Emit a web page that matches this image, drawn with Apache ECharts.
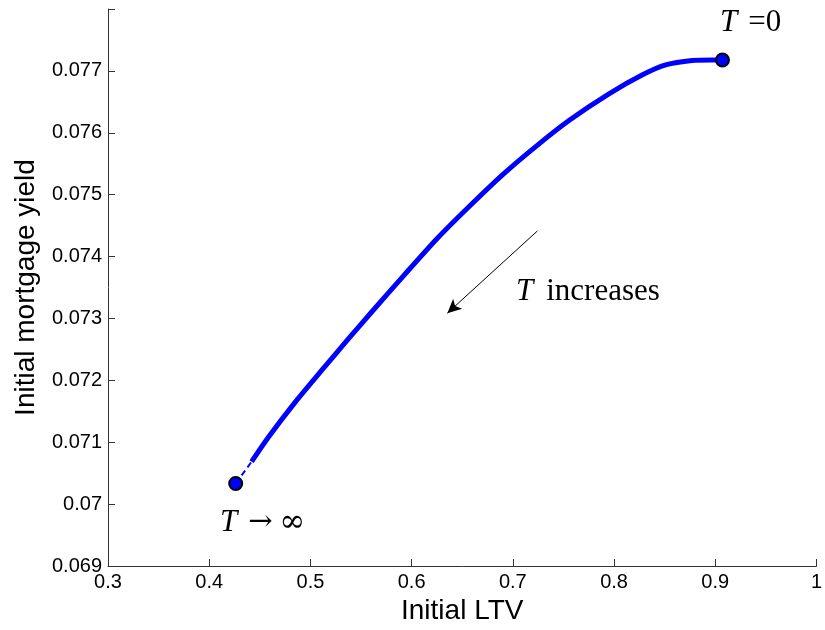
<!DOCTYPE html>
<html>
<head>
<meta charset="utf-8">
<script src="https://cdn.jsdelivr.net/npm/echarts@6/dist/echarts.min.js"></script>
<style>
html,body{margin:0;padding:0;background:#fff;overflow:hidden;}
#c{width:825px;height:630px;}
</style>
</head>
<body>
<div id="c"></div>
<script>
// Data
var ltvSolid = [0.44186, 0.45882, 0.48500, 0.51108, 0.53725, 0.56010, 0.59284, 0.62549, 0.65814, 0.69088, 0.72353, 0.75618, 0.79539, 0.82814, 0.85098, 0.87716, 0.89676, 0.90716];
var yieldSolid = [0.070685, 0.071088, 0.071648, 0.072160, 0.072664, 0.073096, 0.073704, 0.074296, 0.074829, 0.075336, 0.075789, 0.076205, 0.076632, 0.076936, 0.077096, 0.077168, 0.077176, 0.077176];
var ltvDashed = [0.42618, 0.44186];
var yieldDashed = [0.070333, 0.070685];
var endLtv = [0.42618, 0.90716];
var endYield = [0.070333, 0.077176];
var arrowFrom = [0.72422, 0.074413];
var arrowTo = [0.63529, 0.073085];

function pairs(a, b) { return a.map(function (v, i) { return [v, b[i]]; }); }

var chart = echarts.init(document.getElementById('c'), null, {renderer: 'canvas'});
var axisColor = '#333';
var sans = '"Liberation Sans", Arial, sans-serif';
var serif = '"Liberation Serif", "DejaVu Serif", serif';
var option = {
  animation: false,
  backgroundColor: '#fff',
  grid: {left: 108, right: 3, top: 9, bottom: 59, containLabel: false},
  xAxis: {
    type: 'value', min: 0.3, max: 1, interval: 0.1,
    name: 'Initial LTV', nameLocation: 'middle', nameGap: 31,
    nameTextStyle: {fontFamily: sans, fontSize: 28, color: '#000'},
    axisLine: {show: true, lineStyle: {color: axisColor, width: 1}},
    axisTick: {show: true, inside: true, length: 7, lineStyle: {color: axisColor}},
    axisLabel: {
      fontFamily: sans, fontSize: 20, color: '#000', margin: 6,
      formatter: function (v) { return String(parseFloat(v.toFixed(2))); }
    },
    splitLine: {show: false}
  },
  yAxis: {
    type: 'value', min: 0.069, max: 0.078, interval: 0.001,
    name: 'Initial mortgage yield', nameLocation: 'middle', nameGap: 68,
    nameTextStyle: {fontFamily: sans, fontSize: 28, color: '#000'},
    axisLine: {show: true, lineStyle: {color: axisColor, width: 1}},
    axisTick: {show: true, inside: true, length: 7, lineStyle: {color: axisColor}},
    axisLabel: {
      fontFamily: sans, fontSize: 20, color: '#000', margin: 6,
      formatter: function (v) {
        var s = parseFloat(v.toFixed(4));
        if (Math.abs(s - 0.078) < 1e-7) return '';
        return String(s);
      }
    },
    splitLine: {show: false}
  },
  series: [
    {
      type: 'line', data: pairs(ltvDashed, yieldDashed), showSymbol: false, symbol: 'none',
      lineStyle: {color: '#0000ff', width: 2, type: [6, 4]}, z: 2
    },
    {
      type: 'line', data: pairs(ltvSolid, yieldSolid), showSymbol: false, symbol: 'none', smooth: 0.25,
      lineStyle: {color: '#0000ff', width: 5, cap: 'butt'}, z: 3,
      markLine: {
        silent: true, symbol: ['none', 'arrow'], symbolSize: [10, 14],
        lineStyle: {color: '#000', width: 1, type: 'solid'},
        label: {show: false},
        data: [[{coord: arrowFrom}, {coord: arrowTo}]]
      }
    },
    {
      type: 'scatter', data: pairs(endLtv, endYield), symbol: 'circle', symbolSize: 13,
      itemStyle: {color: '#0000ff', borderColor: '#000', borderWidth: 2, opacity: 1}, z: 5
    }
  ],
  graphic: [
    {type: 'text', left: 720, top: 7, style: {
      text: '{i|T}{r|=0}', rich: {
        i: {fontFamily: serif, fontStyle: 'italic', fontSize: 31, fill: '#000'},
        r: {fontFamily: serif, fontSize: 31, fill: '#000', padding: [0, 0, 0, 11]}
      }}},
    {type: 'text', left: 220, top: 507, style: {
      text: '{i|T}{a|\u2192}{r|\u221E}', rich: {
        i: {fontFamily: serif, fontStyle: 'italic', fontSize: 31, fill: '#000'},
        a: {fontFamily: '"DejaVu Serif", serif', fontSize: 29, fill: '#000', padding: [0, 0, 0, 11]},
        r: {fontFamily: '"DejaVu Serif", serif', fontSize: 31, fill: '#000', padding: [0, 0, 0, 7]}
      }}},
    {type: 'text', left: 516, top: 276, style: {
      text: '{i|T}{r|increases}', rich: {
        i: {fontFamily: serif, fontStyle: 'italic', fontSize: 31, fill: '#000'},
        r: {fontFamily: serif, fontSize: 31, fill: '#000', padding: [0, 0, 0, 13]}
      }}}
  ]
};
chart.setOption(option);
</script>
</body>
</html>
